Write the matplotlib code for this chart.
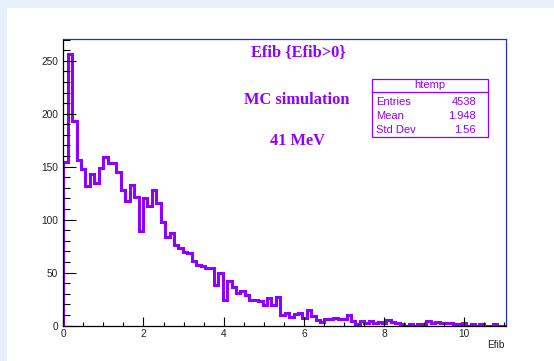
import matplotlib.pyplot as plt
import numpy as np
from matplotlib.patches import Rectangle
from matplotlib.lines import Line2D
from matplotlib.ticker import MultipleLocator

# bin contents (100 bins from 0 to x_max)
x_max = 11.04
counts = [154, 256, 193, 156, 148, 132, 143, 135, 149, 159,
          153, 153, 145, 128, 118, 133, 121, 89, 120, 113,
          128, 116, 98, 84, 87, 76, 73, 69, 68, 61,
          57, 56, 54, 54, 38, 50, 24, 42, 36, 31,
          33, 29, 24, 24, 23, 19, 26, 19, 27, 10,
          12, 8, 11, 12, 7, 15, 9, 5, 3, 6,
          6, 7, 6, 6, 10, 4, 1, 4, 2, 4,
          2, 3, 2, 5, 3, 2, 1, 0, 1, 0,
          1, 0, 4, 2, 3, 2, 2, 2, 1, 1,
          2, 0, 1, 0, 1, 0, 0, 1, 0, 0]
x_ticks = [0, 2, 4, 6, 8, 10]
y_ticks = [0, 50, 100, 150, 200, 250]

stat_names = ['Entries', 'Mean', 'Std Dev']
stat_values = ['4538', '1.948', '1.56']
title_lines = ['Efib {Efib>0}', 'MC simulation', '41 MeV']

purple = '#9000ff'
W, H = 554, 361


def fx(px):
    return px / W


def fy(py):
    return 1 - py / H


edges = np.linspace(0, x_max, len(counts) + 1)

fig = plt.figure(figsize=(W / 100, H / 100), dpi=100)
fig.patch.set_facecolor('#e6f1fb')
# white canvas, light blue strip left and top like the screenshot
fig.patches.append(Rectangle((fx(7), 0), 1, fy(8), transform=fig.transFigure,
                             facecolor='white', edgecolor='none', zorder=-1))

ax = fig.add_axes([fx(63.3), fy(325.5), fx(506 - 63.3), (325.5 - 38.5) / H])
ax.set_zorder(1)
ax.stairs(counts, edges, baseline=0, color=purple, linewidth=2.2)

ax.set_xlim(0, x_max)
ax.set_ylim(0, 271)
ax.set_xticks(x_ticks)
ax.set_yticks(y_ticks)
ax.xaxis.set_minor_locator(MultipleLocator(0.5))
ax.yaxis.set_minor_locator(MultipleLocator(10))
ax.tick_params(axis='x', which='major', direction='in', length=6.2, width=0.8,
               pad=2.2, labelsize=7.3)
ax.tick_params(axis='x', which='minor', direction='in', length=3.1, width=0.8)
ax.tick_params(axis='y', which='major', direction='in', length=9.4, width=0.8,
               pad=3.6, labelsize=7.3)
ax.tick_params(axis='y', which='minor', direction='in', length=4.7, width=0.8)
for lab in ax.get_xticklabels() + ax.get_yticklabels():
    lab.set_family('Liberation Sans')
    lab.set_color('#222222')

for side in ['top', 'right']:
    ax.spines[side].set_color('#2030d0')
for side in ['left', 'bottom']:
    ax.spines[side].set_color('black')
for sp in ax.spines.values():
    sp.set_linewidth(0.9)

fig.text(fx(505), fy(345), 'Efib', ha='right', va='center', fontsize=7.3,
         family='Liberation Sans', color='#222222')

# titles inside the frame
for txt, (cx, cy) in zip(title_lines, [(298, 52), (297, 100), (297, 141)]):
    fig.text(fx(cx), fy(cy), txt, ha='center', va='center', fontsize=11.8,
             family='Liberation Serif', fontweight='bold', color=purple, zorder=7)

# stats box
fig.patches.append(Rectangle((fx(371.7), fy(136.7)), fx(488.3 - 371.7), (136.7 - 79.3) / H,
                             transform=fig.transFigure, facecolor='white',
                             edgecolor=purple, linewidth=0.9, zorder=5))
fig.lines.append(Line2D([fx(371.7), fx(488.3)], [fy(91.7), fy(91.7)],
                        transform=fig.transFigure, color=purple, linewidth=0.9, zorder=6))
fig.text(fx(430), fy(85.5), 'htemp', ha='center', va='center', fontsize=8,
         family='Liberation Sans', color=purple, zorder=7)
for i, (name, val) in enumerate(zip(stat_names, stat_values)):
    y = fy(102.3 + i * 13.8)
    fig.text(fx(376.5), y, name, ha='left', va='center', fontsize=8,
             family='Liberation Sans', color=purple, zorder=7)
    fig.text(fx(476), y, val, ha='right', va='center', fontsize=8,
             family='Liberation Sans', color=purple, zorder=7)

fig.savefig('out.png', dpi=100)
